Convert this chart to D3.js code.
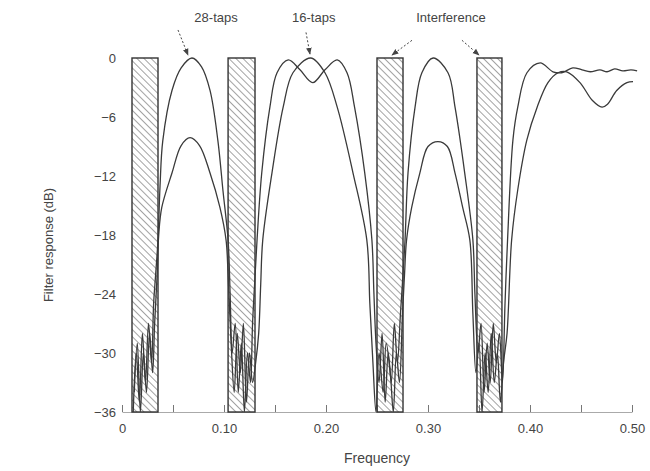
<!DOCTYPE html>
<html>
<head>
<meta charset="utf-8">
<script src="https://cdn.jsdelivr.net/npm/d3@7"></script>
<style>
  body { margin: 0; background: #fff; }
  svg { display: block; font-family: "Liberation Sans", Arial, sans-serif; }
</style>
</head>
<body>
<svg id="chart" width="650" height="471"></svg>
<script>
// interference bands (frequency start, end)
const bands = [[0.0098, 0.0353], [0.104, 0.1304], [0.250, 0.2755], [0.348, 0.3725]];

// 28-tap filter response (frequency, dB)
const taps28 = [
  [0.011, -36], [0.014, -30], [0.017, -35], [0.020, -28], [0.023, -33], [0.026, -27],
  [0.029, -31], [0.031, -25], [0.033, -22], [0.0353, -18.5], [0.0373, -13], [0.040, -8.4],
  [0.049, -3.3], [0.058, -1.0], [0.0686, 0], [0.078, -0.9], [0.0863, -3.3], [0.094, -8.4],
  [0.099, -13.5], [0.104, -18.5], [0.106, -24], [0.108, -30], [0.111, -27], [0.114, -34],
  [0.117, -29], [0.120, -36], [0.123, -30], [0.126, -33], [0.128, -27], [0.130, -23],
  [0.1324, -18.5], [0.137, -11.7], [0.145, -5], [0.152, -1.5], [0.163, -0.2], [0.1745, -1.2],
  [0.187, -2.5], [0.199, -1.2], [0.211, -0.2], [0.2206, -1.5], [0.228, -5], [0.238, -11.7],
  [0.245, -18.5], [0.247, -24], [0.249, -29], [0.252, -33], [0.255, -28], [0.258, -35],
  [0.261, -30], [0.264, -33], [0.267, -27], [0.270, -31], [0.273, -26], [0.2755, -22],
  [0.2775, -18.5], [0.2804, -11.7], [0.2873, -5], [0.294, -1.5], [0.305, 0], [0.3196, -1.5],
  [0.3265, -5], [0.336, -11.7], [0.344, -18.5], [0.346, -24], [0.349, -30], [0.352, -27],
  [0.355, -34], [0.358, -29], [0.361, -33], [0.364, -27], [0.367, -31], [0.370, -28],
  [0.373, -33], [0.3755, -25], [0.378, -18.5], [0.3833, -8.3], [0.388, -5], [0.397, -1.5],
  [0.410, -0.5], [0.4225, -1.4], [0.431, -1.5], [0.442, -1.0], [0.451, -1.2], [0.459, -1.4],
  [0.4686, -1.2], [0.4755, -1.4], [0.483, -1.1], [0.491, -1.3], [0.499, -1.2], [0.505, -1.3]
];

// 16-tap filter response (frequency, dB)
const taps16 = [
  [0.012, -34], [0.015, -29], [0.018, -36], [0.021, -30], [0.024, -34], [0.027, -28],
  [0.030, -32], [0.032, -27], [0.0345, -22], [0.036, -18], [0.039, -15.2], [0.049, -11.7],
  [0.058, -8.9], [0.0667, -8.1], [0.076, -8.9], [0.0863, -11.7], [0.096, -15.2], [0.102, -18.5],
  [0.104, -22], [0.107, -29], [0.110, -34], [0.113, -28], [0.116, -32], [0.119, -27],
  [0.122, -35], [0.125, -30], [0.128, -33], [0.131, -31], [0.134, -28], [0.136, -23],
  [0.138, -18.5], [0.147, -11.7], [0.158, -5], [0.1676, -1.5], [0.185, 0], [0.199, -1.5],
  [0.211, -5], [0.2265, -11.7], [0.240, -18.5], [0.243, -25], [0.246, -31], [0.249, -36],
  [0.252, -30], [0.256, -34], [0.259, -29], [0.263, -32], [0.266, -36], [0.269, -30],
  [0.272, -33], [0.275, -26], [0.277, -22], [0.279, -18.5], [0.284, -15.2], [0.292, -11.7],
  [0.300, -9.0], [0.3098, -8.5], [0.319, -9.0], [0.3265, -11.7], [0.334, -15.2], [0.341, -18.5],
  [0.344, -26], [0.347, -32], [0.350, -29], [0.353, -36], [0.356, -30], [0.359, -34],
  [0.362, -28], [0.365, -33], [0.368, -30], [0.371, -35], [0.374, -31], [0.3775, -28],
  [0.382, -18.5], [0.388, -13.4], [0.397, -8.3], [0.407, -5], [0.4176, -2.5], [0.4275, -1.5],
  [0.436, -1.4], [0.449, -2.5], [0.461, -4.3], [0.4706, -5], [0.476, -4.7], [0.485, -3.3],
  [0.495, -2.5], [0.501, -2.4]
];

const xTicks = [0, 0.05, 0.10, 0.15, 0.20, 0.25, 0.30, 0.35, 0.40, 0.45, 0.50];
const yTicks = [0, -6, -12, -18, -24, -30, -36];

// annotations: label, label position, arrows [tail, tip]
const notes = [
  { text: "28-taps", at: [0.0922, 4.1], arrows: [[[0.0549, 2.85], [0.0647, 0.3]]] },
  { text: "16-taps", at: [0.188, 4.1], arrows: [[[0.1804, 2.6], [0.1843, 0.4]]] },
  { text: "Interference", at: [0.3225, 4.1],
    arrows: [[[0.2843, 1.8], [0.2647, 0.3]], [[0.3333, 1.8], [0.350, 0.3]]] }
];

const svg = d3.select("#chart");
const x = d3.scaleLinear().domain([0, 0.5]).range([122, 632]);
const y = d3.scaleLinear().domain([-36, 0]).range([412, 58]);
const ink = "#444";

const defs = svg.append("defs");
// hatch for the interference bands
defs.append("pattern")
    .attr("id", "hatch")
    .attr("patternUnits", "userSpaceOnUse")
    .attr("width", 5).attr("height", 5)
    .attr("patternTransform", "rotate(-45)")
    .append("line")
    .attr("x1", 0).attr("y1", 0).attr("x2", 0).attr("y2", 5)
    .attr("stroke", "#555").attr("stroke-width", 1.1);

defs.append("marker")
    .attr("id", "arrow")
    .attr("viewBox", "0 0 10 10")
    .attr("refX", 9).attr("refY", 5)
    .attr("markerWidth", 7).attr("markerHeight", 7)
    .attr("orient", "auto")
    .append("path")
    .attr("d", "M0,1 L10,5 L0,9 Z")
    .attr("fill", ink);

defs.append("clipPath").attr("id", "plotclip")
    .append("rect")
    .attr("x", x(0)).attr("y", y(0) - 8)
    .attr("width", x(0.51) - x(0)).attr("height", y(-36) - y(0) + 8);

// x axis, ticks pointing up, labels only on tenths
const xAxis = d3.axisBottom(x)
    .tickValues(xTicks)
    .tickSizeInner(-7)
    .tickSizeOuter(0)
    .tickPadding(12)
    .tickFormat(d => Math.abs(d * 10 - Math.round(d * 10)) < 1e-6 ? (d === 0 ? "0" : d3.format(".2f")(d)) : "");

const gx = svg.append("g")
    .attr("transform", "translate(0," + y(-36) + ")")
    .call(xAxis);
gx.select(".domain").attr("stroke", "#aaa");
gx.selectAll(".tick line").attr("stroke", "#777");
gx.selectAll("text").attr("fill", ink).style("font-size", "13px");

// y axis labels only
const gy = svg.append("g")
    .attr("transform", "translate(" + (x(0) - 4) + ",0)")
    .call(d3.axisLeft(y).tickValues(yTicks).tickSize(0).tickPadding(2)
        .tickFormat(d => d === 0 ? "0" : "\u2212" + Math.abs(d)));
gy.select(".domain").remove();
gy.selectAll("text").attr("fill", ink).style("font-size", "13px");

// interference bands
svg.append("g").selectAll("rect")
    .data(bands)
    .enter().append("rect")
    .attr("x", d => x(d[0]))
    .attr("y", y(0))
    .attr("width", d => x(d[1]) - x(d[0]))
    .attr("height", y(-36) - y(0))
    .attr("fill", "url(#hatch)")
    .attr("stroke", "#333")
    .attr("stroke-width", 1.4);

// filter responses
const line = d3.line()
    .x(d => x(d[0]))
    .y(d => y(d[1]))
    .curve(d3.curveCatmullRom.alpha(0.5));

svg.append("g").attr("clip-path", "url(#plotclip)")
    .selectAll("path")
    .data([taps28, taps16])
    .enter().append("path")
    .attr("d", line)
    .attr("fill", "none")
    .attr("stroke", "#3a3a3a")
    .attr("stroke-width", 1.3);

// annotations
const ann = svg.append("g");
notes.forEach(n => {
    ann.append("text")
        .attr("x", x(n.at[0]))
        .attr("y", y(n.at[1]))
        .attr("text-anchor", "middle")
        .attr("dy", "0.35em")
        .attr("fill", ink)
        .style("font-size", "13px")
        .text(n.text);
    n.arrows.forEach(a => {
        ann.append("line")
            .attr("x1", x(a[0][0])).attr("y1", y(a[0][1]))
            .attr("x2", x(a[1][0])).attr("y2", y(a[1][1]))
            .attr("stroke", ink)
            .attr("stroke-width", 1)
            .attr("stroke-dasharray", "2,2")
            .attr("marker-end", "url(#arrow)");
    });
});

// axis titles
svg.append("text")
    .attr("x", (x(0) + x(0.5)) / 2)
    .attr("y", 458)
    .attr("text-anchor", "middle")
    .attr("dy", "0.35em")
    .attr("fill", ink)
    .style("font-size", "14px")
    .text("Frequency");

svg.append("text")
    .attr("transform", "translate(48," + ((y(0) + y(-36)) / 2 + 10) + ") rotate(-90)")
    .attr("text-anchor", "middle")
    .attr("dy", "0.35em")
    .attr("fill", ink)
    .style("font-size", "13px")
    .text("Filter response (dB)");
</script>
</body>
</html>
